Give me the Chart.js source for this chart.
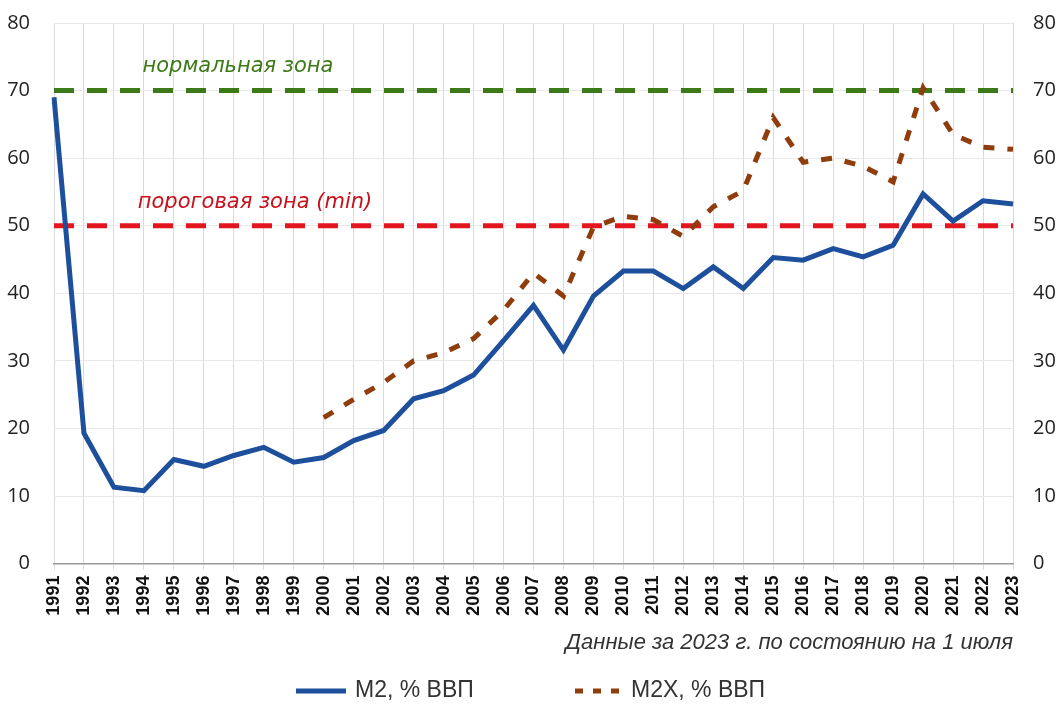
<!DOCTYPE html>
<html>
<head>
<meta charset="utf-8">
<script src="https://cdn.jsdelivr.net/npm/chart.js@4.4.0/dist/chart.umd.min.js"></script>
<style>
  html, body { margin: 0; padding: 0; background: #fff; }
  #wrap { width: 1058px; height: 704px; }
</style>
</head>
<body>
<div id="wrap"><canvas id="chart"></canvas></div>
<script>
const years = ['1991','1992','1993','1994','1995','1996','1997','1998','1999','2000',
  '2001','2002','2003','2004','2005','2006','2007','2008','2009','2010',
  '2011','2012','2013','2014','2015','2016','2017','2018','2019','2020',
  '2021','2022','2023'];

// M2, % of GDP
const m2 = [69.0, 19.3, 11.3, 10.8, 15.4, 14.4, 16.0, 17.2, 15.0, 15.7,
  18.2, 19.7, 24.4, 25.6, 27.9, 33.0, 38.2, 31.6, 39.6, 43.3,
  43.3, 40.7, 43.9, 40.7, 45.3, 44.9, 46.6, 45.4, 47.1, 54.7,
  50.7, 53.7, 53.2];

// M2X, % of GDP (no data before 2000)
const m2x = [null, null, null, null, null, null, null, null, null, 21.6,
  24.3, 26.8, 30.0, 31.2, 33.3, 37.5, 43.0, 39.6, 49.8, 51.4,
  50.9, 48.4, 52.8, 55.2, 66.0, 59.4, 60.0, 58.8, 56.5, 70.4,
  63.5, 61.6, 61.3];

const yTicks = [0, 10, 20, 30, 40, 50, 60, 70, 80];
const normalLevel = 70;
const thresholdLevel = 50;
const normalLabel = 'нормальная зона';
const thresholdLabel = 'пороговая зона (min)';
const footnote = 'Данные за 2023 г. по состоянию на 1 июля';

const blue = '#1d4f9c';
const brown = '#8f3d0d';
const green = '#3b7a17';
const red = '#e3161f';

// horizontal zone lines + their captions
const zonePlugin = {
  id: 'zones',
  beforeDatasetsDraw(chart) {
    const { ctx, chartArea } = chart;
    const y = chart.scales.y;
    ctx.save();
    ctx.lineWidth = 5;
    ctx.setLineDash([20, 13]);
    [[normalLevel, green], [thresholdLevel, red]].forEach(([v, c]) => {
      const py = y.getPixelForValue(v);
      ctx.strokeStyle = c;
      ctx.beginPath();
      ctx.moveTo(chartArea.left, py);
      ctx.lineTo(chartArea.right, py);
      ctx.stroke();
    });
    ctx.setLineDash([]);
    ctx.font = 'italic 21px "DejaVu Sans"';
    ctx.textAlign = 'center';
    ctx.textBaseline = 'middle';
    ctx.fillStyle = green;
    ctx.fillText(normalLabel, chartArea.left + 184, y.getPixelForValue(73.6));
    ctx.fillStyle = '#c8101b';
    ctx.fillText(thresholdLabel, chartArea.left + 201, y.getPixelForValue(53.4));
    ctx.restore();
  }
};

// legend drawn below the footnote
const legendPlugin = {
  id: 'bottomLegend',
  afterDraw(chart) {
    const { ctx } = chart;
    const yy = 691;
    ctx.save();
    ctx.lineWidth = 5;
    ctx.strokeStyle = blue;
    ctx.beginPath();
    ctx.moveTo(296, yy);
    ctx.lineTo(346, yy);
    ctx.stroke();
    ctx.strokeStyle = brown;
    ctx.setLineDash([8, 10]);
    ctx.beginPath();
    ctx.moveTo(575, yy);
    ctx.lineTo(621, yy);
    ctx.stroke();
    ctx.setLineDash([]);
    ctx.fillStyle = '#333';
    ctx.font = '23px "Liberation Sans"';
    ctx.textBaseline = 'middle';
    ctx.fillText(chart.data.datasets[0].label, 355, yy);
    ctx.fillText(chart.data.datasets[1].label, 631, yy);
    ctx.restore();
  }
};

// keep the vertical axes from pushing the plot area down
function fitY(width) {
  return s => {
    s.width = width;
    s.paddingTop = 0;
    s.paddingBottom = 0;
  };
}

const ctx = document.getElementById('chart').getContext('2d');
new Chart(ctx, {
  type: 'line',
  data: {
    labels: years,
    datasets: [{
      label: 'M2, % ВВП',
      data: m2,
      borderColor: blue,
      backgroundColor: blue,
      borderWidth: 5,
      pointRadius: 0,
      tension: 0
    }, {
      label: 'M2X, % ВВП',
      data: m2x,
      borderColor: brown,
      backgroundColor: brown,
      borderWidth: 5,
      borderDash: [11, 13],
      pointRadius: 0,
      tension: 0
    }]
  },
  options: {
    responsive: true,
    maintainAspectRatio: false,
    animation: false,
    layout: { padding: { top: 23, bottom: 44, left: 0, right: 0 } },
    plugins: {
      legend: { display: false },
      tooltip: { enabled: false },
      title: {
        display: true,
        text: footnote,
        position: 'bottom',
        align: 'end',
        fullSize: false,
        color: '#333',
        font: { family: 'Liberation Sans', size: 22, style: 'italic', weight: 'normal' },
        padding: { top: 4, bottom: 4 }
      }
    },
    scales: {
      x: {
        offset: false,
        grid: { color: '#d9d9d9', lineWidth: 1, tickLength: 6, drawTicks: true },
        border: { color: '#9a9a9a', width: 1.5 },
        ticks: {
          autoSkip: false,
          maxRotation: 90,
          minRotation: 90,
          color: '#111',
          padding: 6,
          font: { family: 'Liberation Sans', size: 18, weight: 'bold' }
        },
        afterFit(s) { s.height = 62; }
      },
      y: {
        position: 'left',
        min: 0,
        max: 80,
        afterBuildTicks(s) { s.ticks = yTicks.map(v => ({ value: v })); },
        grid: { color: '#e8e8e8', drawTicks: false },
        border: { display: false },
        ticks: {
          color: '#222',
          padding: 24,
          font: { family: 'Open Sans', size: 20 }
        },
        afterFit: fitY(54)
      },
      y2: {
        position: 'right',
        min: 0,
        max: 80,
        afterBuildTicks(s) { s.ticks = yTicks.map(v => ({ value: v })); },
        grid: { display: false, drawTicks: false },
        border: { display: false },
        ticks: {
          color: '#222',
          padding: 20,
          font: { family: 'Open Sans', size: 20 }
        },
        afterFit: fitY(45)
      }
    }
  },
  plugins: [zonePlugin, legendPlugin]
});
</script>
</body>
</html>
